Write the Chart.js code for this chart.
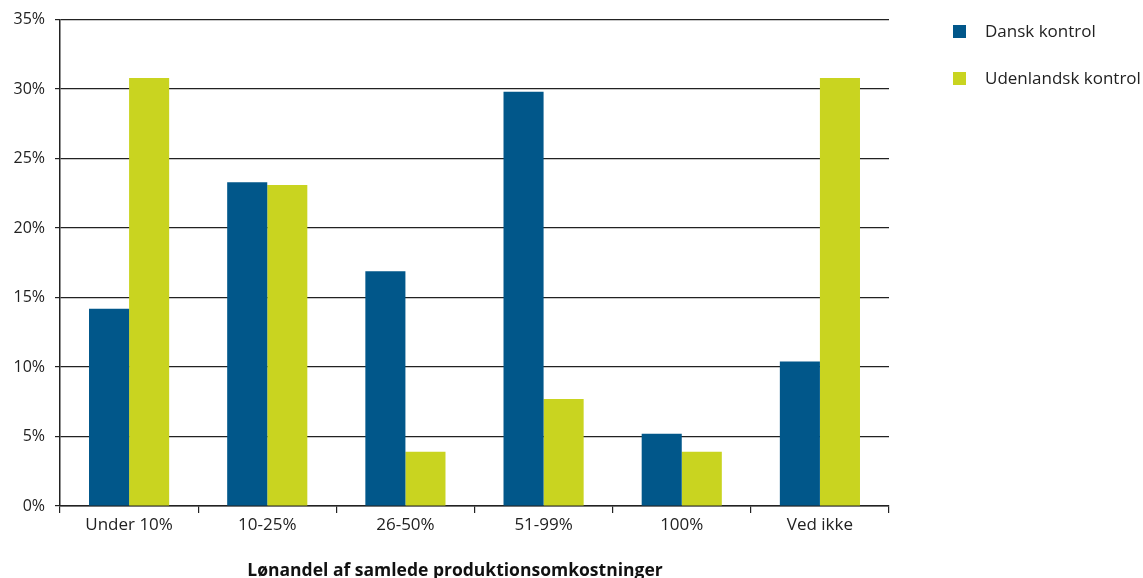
<!DOCTYPE html>
<html><head><meta charset="utf-8">
<script src="https://cdn.jsdelivr.net/npm/chart.js@4/dist/chart.umd.min.js"></script>
<style>
html,body{margin:0;padding:0;background:#fff;}
#wrap{position:relative;width:1143px;height:578px;}
canvas{position:absolute;left:0;top:0;}
.leg{position:absolute;left:953px;font-family:"Open Sans",Lato,sans-serif;font-size:17px;color:#222;}
.leg span.sw{position:absolute;left:0;width:13px;height:13px;}
.leg span.tx{position:absolute;left:32px;white-space:nowrap;top:-5px;line-height:22px;}
#xt{position:absolute;left:155px;width:600px;text-align:center;top:558px;line-height:22px;font-family:"Open Sans",Lato,sans-serif;font-size:17.5px;font-weight:bold;color:#111;white-space:nowrap;}
</style></head>
<body>
<div id="wrap">
<canvas id="c" width="1143" height="578"></canvas>
<div class="leg" style="top:25px"><span class="sw" style="background:#01578a"></span><span class="tx" id="l0"></span></div>
<div class="leg" style="top:72px"><span class="sw" style="background:#c9d420"></span><span class="tx" id="l1"></span></div>
<div id="xt"></div>
</div>
<script>
const categories = ["Under 10%", "10-25%", "26-50%", "51-99%", "100%", "Ved ikke"];
const danskKontrol = [14.2, 23.3, 16.9, 29.8, 5.2, 10.4];
const udenlandskKontrol = [30.8, 23.1, 3.9, 7.7, 3.9, 30.8];
const seriesNames = ["Dansk kontrol", "Udenlandsk kontrol"];
const xTitle = "Lønandel af samlede produktionsomkostninger";

document.getElementById('l0').textContent = seriesNames[0];
document.getElementById('l1').textContent = seriesNames[1];
document.getElementById('xt').textContent = xTitle;

const font = "'Open Sans', Lato, sans-serif";
new Chart(document.getElementById('c'), {
  type: 'bar',
  data: {
    labels: categories,
    datasets: [
      {label: seriesNames[0], data: danskKontrol, backgroundColor: '#01578a', categoryPercentage: 0.58, barPercentage: 1.0},
      {label: seriesNames[1], data: udenlandskKontrol, backgroundColor: '#c9d420', categoryPercentage: 0.58, barPercentage: 1.0}
    ]
  },
  options: {
    responsive: false,
    animation: false,
    layout: {padding: {left: 0, right: 254, top: 12, bottom: 0}},
    plugins: {legend: {display: false}, tooltip: {enabled: false}},
    scales: {
      x: {
        afterFit: s => { s.height = 72; },
        grid: {offset: true, drawOnChartArea: false, tickLength: 7, color: '#222', lineWidth: 1.2},
        border: {display: true, color: '#222', width: 1.5},
        ticks: {color: '#222', font: {family: font, size: 17}, padding: 2},
        title: {display: false}
      },
      y: {
        min: 0, max: 35,
        afterFit: s => { s.width = 60; },
        grid: {color: '#222', lineWidth: 1.2, tickLength: 5},
        border: {display: true, color: '#222', width: 1.5},
        ticks: {stepSize: 5, color: '#222', font: {family: font, size: 16}, padding: 10, callback: v => v + '%'}
      }
    }
  }
});
</script>
</body></html>
